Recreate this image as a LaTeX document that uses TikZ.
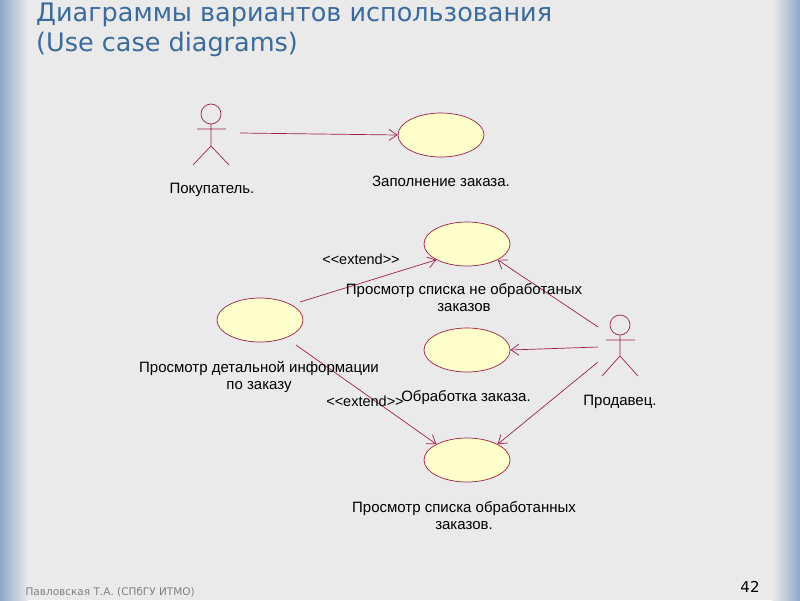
\documentclass[tikz,border=0pt]{standalone}
\usepackage{fontspec}
\setmainfont{Liberation Sans}[Ligatures=NoCommon]
\newfontfamily\titlefont{DejaVu Sans}
\usetikzlibrary{arrows.meta,shapes.geometric}
\definecolor{bg}{HTML}{EAEAEA}
\definecolor{edge}{HTML}{8FA8C8}
\definecolor{line}{HTML}{A0204A}
\definecolor{fillc}{HTML}{FFFFCC}
\definecolor{titlec}{HTML}{3A6A9E}
\tikzset{
  uc/.style={draw=line,fill=fillc,ellipse,minimum width=86pt,minimum height=44pt,inner sep=0pt,line width=0.7pt},
  lbl/.style={font=\fontsize{15pt}{17pt}\selectfont,align=center},
  assoc/.style={draw=line,line width=0.7pt,-{Straight Barb[length=8pt,width=11pt]}},
  actorline/.style={draw=line,line width=0.7pt}
}
\begin{document}
\begin{tikzpicture}[x=1pt,y=-1pt]
\useasboundingbox (0,0) rectangle (800,600);
\fill[bg] (0,0) rectangle (800,600);
\shade[left color=edge,right color=bg] (0,0) rectangle (28,600);
\shade[left color=bg,right color=edge] (772,0) rectangle (800,600);
\node[anchor=north west,align=left,text=titlec,font=\titlefont\fontsize{25.5pt}{30pt}\selectfont,inner sep=0pt] (title) at (36,3) {Диаграммы вариантов использования\\(Use case diagrams)};
% use cases
\node[uc] (u1) at (441,135) {};
\node[uc] (u2) at (467,244) {};
\node[uc] (u3) at (260,320) {};
\node[uc] (u4) at (467,350) {};
\node[uc] (u5) at (467,460) {};
% actor 1
\draw[actorline] (211,114) circle (10);
\draw[actorline] (197,129) -- (226,129) (211,124) -- (211,146) (193,165) -- (211,146) -- (229,165);
\coordinate (a1) at (240,133);
% actor 2
\draw[actorline] (620,325) circle (10);
\draw[actorline] (606,340) -- (635,340) (620,335) -- (620,356) (602,376) -- (620,356) -- (638,376);
\coordinate (a2a) at (598,327);
\coordinate (a2b) at (598,347);
\coordinate (a2c) at (598,362);
\coordinate (e1) at (300,302);
\coordinate (e2) at (296,345);
% connectors
\draw[assoc] (a1) -- (u1.west);
\draw[assoc] (e1) -- (u2.south west);
\draw[assoc] (e2) -- (u5.north west);
\draw[assoc] (a2a) -- (u2.south east);
\draw[assoc] (a2b) -- (u4.east);
\draw[assoc] (a2c) -- (u5.north east);
% labels
\node[lbl] (l1) at (212,190) {Покупатель.};
\node[lbl] (l2) at (441,181) {Заполнение заказа.};
\node[lbl] (l3) at (464,298) {Просмотр списка не обработаных\\заказов};
\node[lbl] (l4) at (259,377) {Просмотр детальной информации\\по заказу};
\node[lbl] (l5) at (466,398) {Обработка заказа.};
\node[lbl] (l6) at (620,402) {Продавец.};
\node[lbl] (l7) at (464,516) {Просмотр списка обработанных\\заказов.};
\node[lbl,font=\fontsize{14.5pt}{16pt}\selectfont] (x1) at (361,259) {{<}{<}extend{>}{>}};
\node[lbl,font=\fontsize{14.5pt}{16pt}\selectfont] (x2) at (365,401) {{<}{<}extend{>}{>}};
\node[anchor=west,text=gray,font=\titlefont\fontsize{10.5pt}{12pt}\selectfont] (ft) at (22,592) {Павловская Т.А. (СПбГУ ИТМО)};
\node[font=\titlefont\fontsize{15pt}{17pt}\selectfont] (pg) at (750,587) {42};
\end{tikzpicture}
\end{document}
